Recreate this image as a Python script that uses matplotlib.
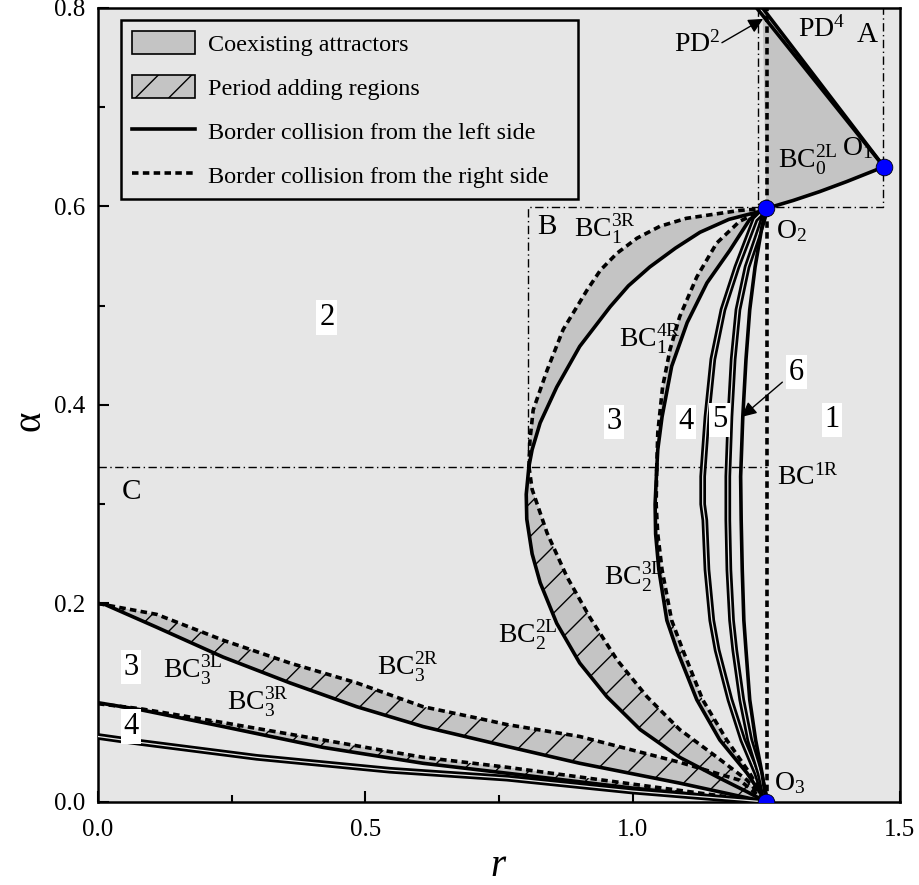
import matplotlib
matplotlib.use("Agg")
import numpy as np
import matplotlib.pyplot as plt
from matplotlib.patches import Polygon, Patch
from matplotlib.lines import Line2D
from matplotlib.ticker import FormatStrFormatter

plt.rcParams['font.family'] = ['Liberation Serif', 'DejaVu Serif']
plt.rcParams['mathtext.fontset'] = 'custom'
plt.rcParams['mathtext.rm'] = 'Liberation Serif'
plt.rcParams['mathtext.it'] = 'Liberation Serif:italic'
plt.rcParams['mathtext.default'] = 'regular'
plt.rcParams['hatch.linewidth'] = 1.0

BG = '#e6e6e6'
GRAY = '#c4c4c4'
LW = 2.6

# ---- bifurcation curves (r, alpha) ----
# special points O1, O2, O3
o_r = [1.470, 1.250, 1.250]
o_a = [0.640, 0.598, 0.000]

# BC0^2L : O2 -> O1
bc0_r = [1.250, 1.300, 1.350, 1.400, 1.470]
bc0_a = [0.598, 0.606, 0.615, 0.625, 0.640]
# period doubling lines
pd2_r = [1.232, 1.470]
pd2_a = [0.800, 0.640]
pd4_r = [1.243, 1.470]
pd4_a = [0.800, 0.640]
# BC^1R vertical border
bc1r_r = [1.252, 1.252]
bc1r_a = [0.0, 0.8]

# big solid curve (upper branch / BC2^2L lower branch)
s1_up_r = [1.250, 1.238, 1.180, 1.126, 1.080, 1.032, 0.992, 0.958, 0.901, 0.858, 0.827, 0.812, 0.806]
s1_up_a = [0.598, 0.595, 0.587, 0.574, 0.558, 0.539, 0.520, 0.499, 0.459, 0.418, 0.382, 0.355, 0.338]
s1_lo_r = [0.806, 0.801, 0.802, 0.812, 0.827, 0.858, 0.901, 0.952, 1.014, 1.088, 1.163, 1.215, 1.250]
s1_lo_a = [0.338, 0.310, 0.285, 0.250, 0.221, 0.180, 0.140, 0.106, 0.073, 0.045, 0.024, 0.010, 0.000]
# big dashed curve (BC1^3R upper / lower)
d1_up_r = [1.250, 1.200, 1.150, 1.100, 1.051, 1.008, 0.971, 0.940, 0.915, 0.870, 0.840, 0.814, 0.808, 0.806]
d1_up_a = [0.598, 0.596, 0.592, 0.588, 0.580, 0.568, 0.553, 0.536, 0.516, 0.476, 0.435, 0.395, 0.365, 0.338]
d1_lo_r = [0.806, 0.812, 0.840, 0.877, 0.920, 0.971, 1.027, 1.088, 1.158, 1.214, 1.250]
d1_lo_a = [0.338, 0.315, 0.271, 0.227, 0.186, 0.143, 0.106, 0.073, 0.045, 0.022, 0.000]

# BC1^4R / BC2^3L pair
d2_up_r = [1.250, 1.200, 1.157, 1.120, 1.088, 1.070, 1.056, 1.047, 1.045]
d2_up_a = [0.598, 0.585, 0.563, 0.529, 0.489, 0.456, 0.418, 0.372, 0.335]
s2_up_r = [1.250, 1.219, 1.182, 1.139, 1.102, 1.073, 1.055, 1.047, 1.045]
s2_up_a = [0.598, 0.587, 0.556, 0.523, 0.483, 0.439, 0.388, 0.355, 0.335]
lo2_a = [0.335, 0.300, 0.270, 0.234, 0.183, 0.153, 0.103, 0.0625, 0.029, 0.000]
s2_lo_r = [1.045, 1.042, 1.043, 1.049, 1.064, 1.083, 1.120, 1.163, 1.214, 1.250]
d2_lo_r = [1.045, 1.044, 1.047, 1.055, 1.073, 1.094, 1.131, 1.176, 1.219, 1.250]

# higher period borders between O2 and O3
s3_r = [1.250, 1.229, 1.195, 1.169, 1.150, 1.139, 1.131, 1.131, 1.135, 1.139, 1.148, 1.158, 1.182, 1.206, 1.232, 1.250]
s3_a = [0.598, 0.587, 0.539, 0.496, 0.446, 0.388, 0.328, 0.300, 0.284, 0.234, 0.183, 0.153, 0.103, 0.0625, 0.029, 0.000]
s45_a = [0.598, 0.580, 0.539, 0.496, 0.446, 0.388, 0.328, 0.284, 0.234, 0.183, 0.153, 0.103, 0.0625, 0.029, 0.000]
s4_r = [1.250, 1.240, 1.214, 1.197, 1.188, 1.182, 1.178, 1.178, 1.180, 1.185, 1.191, 1.204, 1.219, 1.238, 1.250]
s5_r = [1.250, 1.242, 1.229, 1.219, 1.212, 1.206, 1.202, 1.203, 1.205, 1.208, 1.212, 1.219, 1.230, 1.242, 1.250]

# borders in the low-alpha region (C)
s6_r = [0.000, 0.013, 0.110, 0.234, 0.359, 0.484, 0.608, 0.714, 0.765, 0.901, 1.088, 1.250]
s6_a = [0.200, 0.199, 0.176, 0.146, 0.120, 0.096, 0.076, 0.0625, 0.056, 0.039, 0.019, 0.000]
d6_r = [0.000, 0.110, 0.234, 0.359, 0.484, 0.608, 0.714, 0.765, 0.901, 1.088, 1.200, 1.250]
d6_a = [0.200, 0.189, 0.163, 0.140, 0.120, 0.096, 0.084, 0.078, 0.066, 0.040, 0.022, 0.000]
s7_r = [0.000, 0.079, 0.234, 0.421, 0.608, 0.765, 1.000, 1.250]
s7_a = [0.100, 0.093, 0.076, 0.055, 0.039, 0.029, 0.014, 0.000]
d7_r = [0.000, 0.079, 0.234, 0.421, 0.608, 0.765, 1.000, 1.250]
d7_a = [0.099, 0.094, 0.080, 0.0625, 0.045, 0.035, 0.018, 0.000]
s8_r = [0.000, 0.079, 0.297, 0.546, 0.765, 1.000, 1.250]
s8_a = [0.066, 0.060, 0.045, 0.032, 0.024, 0.011, 0.000]

# region boxes A, B, C
box_a_r = [1.235, 1.235, 1.468, 1.468]
box_a_a = [0.800, 0.599, 0.599, 0.800]
box_b_r = [0.804, 0.804, 1.235]
box_b_a = [0.338, 0.599, 0.599]
box_c_r = [0.0, 1.252]
box_c_a = [0.338, 0.338]

region_numbers = [('2', 0.428, 0.488), ('3', 0.965, 0.383), ('4', 1.100, 0.383),
                  ('5', 1.163, 0.385), ('6', 1.307, 0.433), ('1', 1.373, 0.385),
                  ('3', 0.062, 0.136), ('4', 0.062, 0.076)]
letters = [('A', 1.438, 0.773), ('B', 0.840, 0.579), ('C', 0.062, 0.312)]
curve_names = [
    ('PD$^4$', 1.354, 0.778), ('O$_1$', 1.421, 0.659),
    ('BC$_0^{2L}$', 1.328, 0.647), ('O$_2$', 1.298, 0.575),
    ('BC$_1^{3R}$', 0.948, 0.577), ('BC$_1^{4R}$', 1.032, 0.466),
    ('BC$^{1R}$', 1.328, 0.327), ('BC$_2^{3L}$', 1.002, 0.226),
    ('BC$_2^{2L}$', 0.804, 0.168), ('BC$_3^{2R}$', 0.580, 0.136),
    ('BC$_3^{3L}$', 0.178, 0.133), ('BC$_3^{3R}$', 0.299, 0.100),
    ('O$_3$', 1.294, 0.019),
]

fig = plt.figure(figsize=(9.19, 8.85), dpi=100)
ax = fig.add_axes([0.1066, 0.0938, 0.8727, 0.8972])
ax.set_facecolor(BG)


def poly(r1, a1, r2, a2, hatch=None):
    pts = np.column_stack([np.r_[r1, r2[::-1]], np.r_[a1, a2[::-1]]])
    ax.add_patch(Polygon(pts, closed=True, facecolor=GRAY, edgecolor='k',
                         lw=0, hatch=hatch, zorder=2))


def solid(r, a, double=False):
    if double:
        ax.plot(r, a, color='k', lw=4.8, solid_joinstyle='round', zorder=4)
        ax.plot(r, a, color=BG, lw=0.9, solid_joinstyle='round', zorder=4)
    else:
        ax.plot(r, a, color='k', lw=LW, solid_joinstyle='round', zorder=4)


def dashed(r, a):
    ax.plot(r, a, color='k', lw=LW, ls=(0, (1.8, 1.2)), zorder=4)


A = np.array
# filled regions
poly(A(bc0_r), A(bc0_a), A(pd4_r + [1.252]), A(pd4_a + [0.8]))
poly(A(d1_up_r), A(d1_up_a), A(s1_up_r), A(s1_up_a))
poly(A(d2_up_r), A(d2_up_a), A(s2_up_r), A(s2_up_a))
poly(A(s1_lo_r), A(s1_lo_a), A(d1_lo_r), A(d1_lo_a), hatch='/')
poly(A(s2_lo_r), A(lo2_a), A(d2_lo_r), A(lo2_a), hatch='/')
poly(A(s6_r), A(s6_a), A(d6_r), A(d6_a), hatch='/')
poly(A(s7_r), A(s7_a), A(d7_r), A(d7_a), hatch='/')

# region boxes
dd = dict(color='k', lw=1.0, ls=(0, (6, 2.5, 1, 2.5)), zorder=3)
ax.plot(box_a_r, box_a_a, **dd)
ax.plot(box_b_r, box_b_a, **dd)
ax.plot(box_c_r, box_c_a, **dd)

# border collision curves
solid(bc0_r, bc0_a)
solid(pd2_r, pd2_a)
solid(pd4_r, pd4_a)
dashed(bc1r_r, bc1r_a)
solid(s1_up_r, s1_up_a)
solid(s1_lo_r, s1_lo_a)
dashed(d1_up_r, d1_up_a)
dashed(d1_lo_r, d1_lo_a)
solid(s2_up_r, s2_up_a)
solid(s2_lo_r, lo2_a)
dashed(d2_up_r, d2_up_a)
dashed(d2_lo_r, lo2_a)
solid(s3_r, s3_a, double=True)
solid(s4_r, s45_a, double=True)
solid(s5_r, s45_a)
solid(s6_r, s6_a)
dashed(d6_r, d6_a)
solid(s7_r, s7_a)
dashed(d7_r, d7_a)
solid(s8_r, s8_a, double=True)

ax.plot(o_r, o_a, 'o', ms=12, mfc='#0000ff', mec='k', mew=0.6, zorder=6)

for txt, x, y in region_numbers:
    ax.text(x, y, txt, ha='center', va='center', fontsize=22, zorder=7,
            bbox=dict(facecolor='white', edgecolor='none', pad=2))
for txt, x, y in letters:
    ax.text(x, y, txt, ha='center', va='center', fontsize=21, zorder=7)
for txt, x, y in curve_names:
    ax.text(x, y, txt, ha='center', va='center', fontsize=20, zorder=7)

ax.text(1.165, 0.763, 'PD$^2$', ha='right', va='center', fontsize=20, zorder=7)
arw = dict(arrowstyle='-|>', color='k', lw=1.0, mutation_scale=22, shrinkA=0, shrinkB=0)
ax.annotate('', xy=(1.244, 0.789), xytext=(1.167, 0.765), arrowprops=arw, zorder=7)
ax.annotate('', xy=(1.204, 0.388), xytext=(1.280, 0.423), arrowprops=arw, zorder=7)

handles = [
    Patch(facecolor=GRAY, edgecolor='k', lw=1.2),
    Patch(facecolor=GRAY, edgecolor='k', lw=1.2, hatch='/'),
    Line2D([], [], color='k', lw=LW),
    Line2D([], [], color='k', lw=LW, ls=(0, (1.8, 1.2))),
]
names = ['Coexisting attractors', 'Period adding regions',
         'Border collision from the left side', 'Border collision from the right side']
leg = ax.legend(handles, names, loc='upper left', bbox_to_anchor=(0.0287, 0.5, 0.570, 0.485),
                mode='expand', borderaxespad=0, fontsize=17.4, handlelength=2.6,
                handleheight=1.1, handletextpad=0.55, labelspacing=0.8, borderpad=0.45,
                fancybox=False, framealpha=1, facecolor=BG, edgecolor='k')
leg.get_frame().set_linewidth(1.8)
leg.set_zorder(8)

ax.set_xlim(0, 1.5)
ax.set_ylim(0, 0.8)
ax.set_xticks([0, 0.5, 1.0, 1.5])
ax.set_xticks([0.25, 0.75, 1.25], minor=True)
ax.set_yticks([0, 0.2, 0.4, 0.6, 0.8])
ax.set_yticks([0.1, 0.3, 0.5, 0.7], minor=True)
ax.xaxis.set_major_formatter(FormatStrFormatter('%.1f'))
ax.yaxis.set_major_formatter(FormatStrFormatter('%.1f'))
ax.tick_params(which='both', direction='in', top=False, right=False, width=1.5, labelsize=18)
ax.tick_params(which='major', length=8)
ax.tick_params(which='minor', length=5)
ax.tick_params(axis='x', pad=12)
ax.tick_params(axis='y', pad=9)
for sp in ax.spines.values():
    sp.set_linewidth(1.8)

ax.set_xlabel('$\\mathit{r}$', fontsize=28)
ax.set_ylabel('α', fontsize=28)
ax.xaxis.set_label_coords(0.5, -0.058)
ax.yaxis.set_label_coords(-0.062, 0.48)

fig.savefig('out.png', dpi=100)
